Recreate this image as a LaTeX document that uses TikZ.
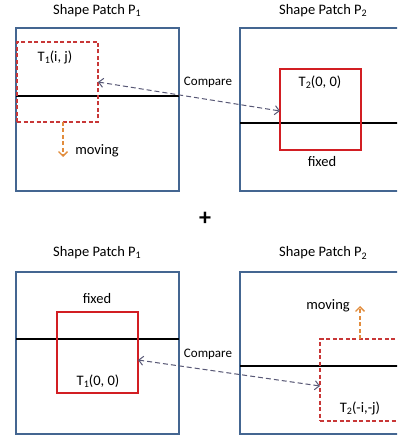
\documentclass[tikz,border=0pt]{standalone}
\usepackage{fontspec}
\setmainfont{Carlito}
\usetikzlibrary{arrows.meta}
\newcommand\mysub[1]{\raisebox{-0.35ex}{\fontsize{10}{10}\selectfont #1}}
\definecolor{boxblue}{RGB}{68,102,145}
\definecolor{tred}{RGB}{210,30,35}
\definecolor{dred}{RGB}{200,55,55}
\definecolor{morange}{RGB}{226,140,60}
\definecolor{cgray}{RGB}{88,88,118}
\begin{document}
\begin{tikzpicture}[x=1pt,y=-1pt,
  patch/.style={draw=boxblue,line width=1.8pt,minimum width=163pt,minimum height=163pt,inner sep=0pt,outer sep=0pt,anchor=north west},
  midline/.style={draw=black,line width=1.8pt},
  solidwin/.style={draw=tred,line width=1.8pt,minimum width=81pt,minimum height=81pt,inner sep=0pt,outer sep=0pt},
  dashwin/.style={draw=dred,line width=1.3pt,dash pattern=on 4pt off 2.5pt,minimum width=81pt,minimum height=80pt,inner sep=0pt,outer sep=0pt},
  cmparrow/.style={draw=cgray,line width=1pt,dash pattern=on 5pt off 3pt,{Straight Barb[length=4.5pt,width=9pt]}-{Straight Barb[length=4.5pt,width=9pt]}},
  movearrow/.style={draw=morange,line width=1.3pt,dash pattern=on 4pt off 2.5pt,-{Straight Barb[length=4.5pt,width=9pt]}},
  txt/.style={font=\fontsize{14.5}{16}\selectfont,inner sep=0pt},
  smalltxt/.style={font=\fontsize{13}{14}\selectfont,inner sep=0pt}
]
\useasboundingbox (0,0) rectangle (397,438);
\clip (0,0) rectangle (397,438);
\fill[white] (0,0) rectangle (397,438);

% patches
\node[patch] (p1) at (16,28) {};
\node[patch] (p2) at (240,28) {};
\node[patch,minimum height=162pt] (p3) at (16,272) {};
\node[patch,minimum height=162pt] (p4) at (240,272) {};

% midlines
\draw[midline] (16,96) -- (179,96);
\draw[midline] (240,123) -- (403,123);
\draw[midline] (16,339) -- (179,339);
\draw[midline] (240,366) -- (403,366);

% titles
\node[txt] (title1) at (97,10.5) {Shape Patch P\mysub{1}};
\node[txt] (title2) at (323,10.5) {Shape Patch P\mysub{2}};
\node[txt] (title3) at (97,252.5) {Shape Patch P\mysub{1}};
\node[txt] (title4) at (323,253) {Shape Patch P\mysub{2}};

% windows
\node[dashwin] (t1) at (57.5,82) {};
\node[solidwin] (t2) at (320.5,109.5) {};
\node[solidwin] (t1b) at (97.5,352.5) {};
\node[dashwin,minimum height=82pt] (t2b) at (360.5,380) {};

% window labels
\node[txt] (lt1) at (55,57) {T\mysub{1}(i, j)};
\node[txt] (lt2) at (320,82) {T\mysub{2}(0, 0)};
\node[txt] (lt1b) at (98,381) {T\mysub{1}(0, 0)};
\node[txt] (lt2b) at (360,408) {T\mysub{2}(-i,-j)};

% fixed / moving
\node[txt] (fixed2) at (322,162) {fixed};
\node[txt] (fixed1b) at (97,299) {fixed};
\node[txt] (mov1) at (97,151) {moving};
\node[txt] (mov2b) at (328,306) {moving};
\coordinate (m1end) at (63,157);
\coordinate (m2end) at (360,306);
\draw[movearrow] (t1.south -| m1end) -- (m1end);
\draw[movearrow] (t2b.north -| m2end) -- (m2end);

% compare
\node[smalltxt] (cmp1) at (208,82) {Compare};
\node[smalltxt] (cmp2) at (208,354) {Compare};
\draw[cmparrow] (t1.east) -- ([yshift=-1.5pt]t2.west);
\draw[cmparrow] ([yshift=-7.5pt]t1b.east) -- ([yshift=-6pt]t2b.west);

% plus
\node[font=\fontsize{24}{24}\selectfont\bfseries,inner sep=0pt] (plus) at (205,219) {+};
\end{tikzpicture}
\end{document}
